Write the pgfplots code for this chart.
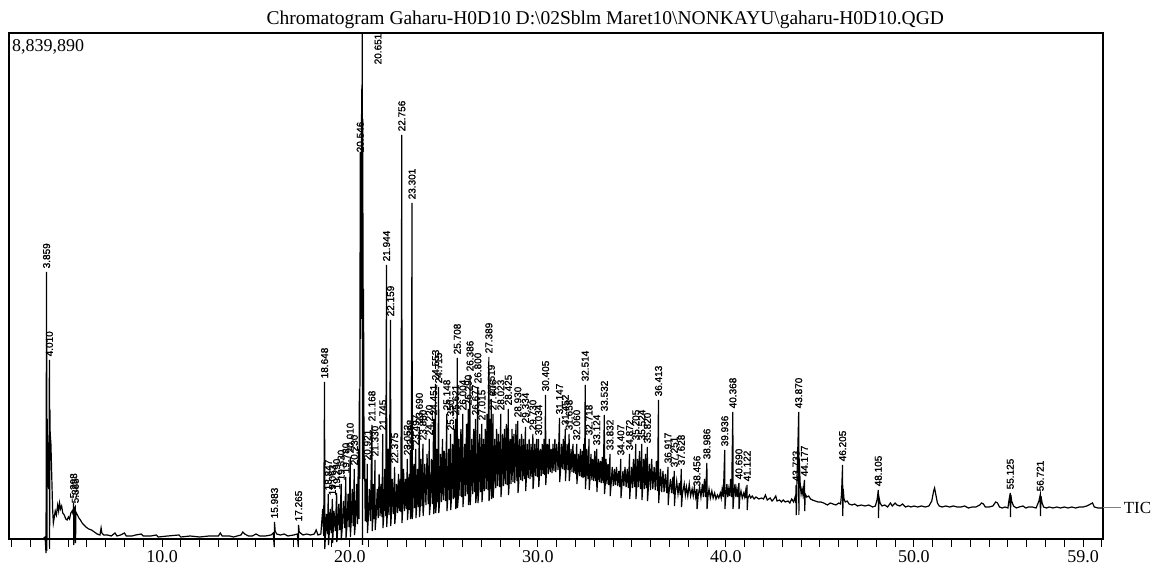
\documentclass[border=0pt]{standalone}
\usepackage{fontspec}
\setmainfont{Liberation Serif}
\newfontfamily\labfont[FakeBold=1.2]{Liberation Sans}
\usepackage{pgfplots}
\usepackage{pgfplotstable}
\pgfplotsset{compat=1.18}

\pgfplotstableread[row sep=\\]{
t h\\
3.70 1\\ 3.78 2\\ 3.83 -14\\ 3.845 150\\ 3.859 267\\ 3.875 -12\\ 3.89 120\\ 3.93 70\\ 3.97 50\\ 3.995 100\\ 4.010 179\\ 4.02 -10\\ 4.035 130\\ 4.05 106\\ 4.09 95\\ 4.13 66\\ 4.18 30\\ 4.22 16\\ 4.27 22\\ 4.32 28\\ 4.38 24\\ 4.45 34\\ 4.50 28\\ 4.55 36\\ 4.60 30\\ 4.66 33\\ 4.72 26\\ 4.80 24\\ 4.88 20\\ 4.95 19\\ 5.02 22\\ 5.08 20\\ 5.15 26\\ 5.22 28\\ 5.27 25\\ 5.298 36\\ 5.31 -6\\ 5.33 30\\ 5.385 32\\ 5.40 -4\\ 5.42 27\\ 5.50 24\\ 5.58 21\\ 5.66 19\\ 5.75 16\\ 5.85 14\\ 5.95 12\\ 6.10 10\\ 6.25 9\\ 6.40 7\\ 6.55 5\\ 6.70 4\\ 6.76 11\\ 6.80 6\\ 6.90 4\\ 7.10 4\\ 7.30 3\\ 7.50 6\\ 7.60 3\\ 7.80 4\\ 8.00 6\\ 8.10 3\\ 8.40 3\\ 8.60 4\\ 8.90 5\\ 9.00 3\\ 9.40 3\\ 9.70 4\\ 9.80 2\\ 10.30 3\\ 10.90 4\\ 11.00 2\\ 11.50 3\\ 12.00 2\\ 12.50 3\\ 13.00 3\\ 13.10 6\\ 13.20 3\\ 13.60 3\\ 13.80 2\\ 14.20 4\\ 14.30 7\\ 14.40 5\\ 14.60 3\\ 14.80 3\\ 15.00 5\\ 15.20 3\\ 15.50 3\\ 15.80 4\\ 15.92 6\\ 15.97 -8\\ 15.983 17\\ 16.02 8\\ 16.10 5\\ 16.30 4\\ 16.50 5\\ 16.70 3\\ 17.00 4\\ 17.20 5\\ 17.25 -8\\ 17.265 14\\ 17.30 7\\ 17.50 4\\ 17.70 5\\ 17.90 4\\ 18.10 5\\ 18.20 9\\ 18.30 4\\ 18.45 5\\
18.55 30\\ 18.60 3\\ 18.648 157\\ 18.66 -10\\ 18.70 6\\ 18.75 25\\ 18.80 5\\ 18.847 45\\ 18.86 -6\\ 18.90 7\\ 18.95 30\\ 19.00 6\\ 19.063 40\\ 19.075 -4\\ 19.11 9\\ 19.15 28\\ 19.22 8\\ 19.29 46\\ 19.30 -3\\ 19.35 10\\ 19.40 35\\ 19.46 9\\ 19.53 55\\ 19.54 -1\\ 19.59 12\\ 19.65 38\\ 19.71 11\\ 19.78 62\\ 19.79 1\\ 19.84 13\\ 19.90 45\\ 19.95 12\\ 20.010 82\\ 20.02 2\\ 20.06 15\\ 20.12 50\\ 20.17 13\\ 20.230 70\\ 20.24 4\\ 20.29 16\\ 20.35 55\\ 20.40 15\\ 20.45 90\\ 20.48 20\\ 20.50 150\\ 20.52 60\\ 20.546 387\\ 20.56 200\\ 20.58 300\\ 20.60 220\\ 20.62 450\\ 20.635 380\\ 20.651 506\\ 20.665 -6\\ 20.68 420\\ 20.70 150\\ 20.72 250\\ 20.75 60\\ 20.78 80\\ 20.81 18\\
20.85 60\\ 20.88 17\\ 20.921 75\\ 20.93 6\\ 20.97 19\\ 21.03 50\\ 21.09 18\\ 21.168 114\\ 21.18 8\\ 21.22 21\\ 21.25 55\\ 21.29 20\\ 21.330 79\\ 21.34 9\\ 21.39 22\\ 21.45 50\\ 21.50 21\\ 21.55 65\\ 21.60 23\\ 21.65 55\\ 21.70 22\\ 21.745 105\\ 21.755 11\\ 21.80 24\\ 21.85 70\\ 21.90 23\\ 21.944 274\\ 21.955 12\\ 21.99 26\\ 22.03 90\\ 22.08 24\\ 22.159 219\\ 22.17 13\\ 22.21 27\\ 22.25 60\\ 22.31 25\\ 22.375 72\\ 22.385 15\\ 22.43 27\\ 22.48 55\\ 22.53 26\\ 22.58 65\\ 22.63 28\\ 22.67 60\\ 22.71 27\\ 22.756 404\\ 22.768 16\\ 22.80 29\\ 22.85 70\\ 22.90 28\\ 22.95 60\\ 23.00 30\\ 23.052 80\\ 23.06 19\\ 23.10 31\\ 23.15 65\\ 23.18 29\\ 23.208 85\\ 23.22 20\\ 23.26 31\\ 23.301 336\\ 23.313 20\\ 23.35 32\\ 23.40 75\\ 23.45 31\\ 23.497 90\\ 23.51 21\\ 23.55 33\\ 23.59 70\\ 23.64 32\\ 23.690 112\\ 23.70 22\\ 23.74 34\\ 23.78 80\\ 23.83 33\\ 23.880 95\\ 23.89 23\\ 23.93 35\\ 23.98 75\\ 24.04 34\\ 24.10 85\\ 24.16 35\\ 24.220 100\\ 24.23 24\\ 24.28 36\\ 24.33 80\\ 24.39 35\\ 24.451 120\\ 24.46 25\\ 24.50 37\\ 24.553 155\\ 24.56 26\\ 24.60 36\\ 24.63 90\\ 24.67 37\\ 24.715 152\\ 24.725 26\\ 24.77 38\\ 24.82 85\\ 24.87 37\\ 24.92 100\\ 24.97 39\\ 25.02 88\\ 25.08 38\\ 25.148 125\\ 25.16 28\\ 25.20 40\\ 25.25 90\\ 25.30 39\\ 25.350 105\\ 25.36 29\\ 25.40 41\\ 25.45 95\\ 25.50 40\\ 25.55 110\\ 25.58 41\\ 25.621 120\\ 25.63 30\\ 25.67 42\\ 25.708 181\\ 25.72 31\\ 25.76 41\\ 25.80 100\\ 25.85 43\\ 25.90 110\\ 25.95 42\\ 26.004 125\\ 26.01 32\\ 26.05 44\\ 26.10 95\\ 26.15 43\\ 26.20 115\\ 26.25 45\\ 26.290 130\\ 26.30 34\\ 26.34 44\\ 26.386 164\\ 26.395 34\\ 26.43 46\\ 26.48 100\\ 26.53 45\\ 26.58 110\\ 26.63 47\\ 26.677 120\\ 26.69 36\\ 26.74 46\\ 26.800 152\\ 26.81 36\\ 26.85 48\\ 26.90 105\\ 26.95 47\\ 27.015 115\\ 27.025 37\\ 27.06 49\\ 27.10 100\\ 27.15 48\\ 27.20 110\\ 27.25 50\\ 27.29 125\\ 27.34 49\\ 27.389 182\\ 27.40 38\\ 27.44 51\\ 27.47 120\\ 27.49 50\\ 27.519 140\\ 27.53 40\\ 27.56 51\\ 27.606 125\\ 27.615 41\\ 27.65 52\\ 27.70 100\\ 27.75 51\\ 27.80 110\\ 27.85 53\\ 27.90 105\\ 27.96 52\\ 28.023 125\\ 28.035 42\\ 28.07 54\\ 28.12 105\\ 28.17 53\\ 28.22 110\\ 28.27 55\\ 28.32 115\\ 28.37 54\\ 28.425 130\\ 28.435 44\\ 28.47 56\\ 28.52 100\\ 28.57 55\\ 28.62 110\\ 28.67 57\\ 28.72 105\\ 28.77 56\\ 28.83 115\\ 28.88 58\\ 28.930 118\\ 28.94 46\\ 28.98 57\\ 29.03 100\\ 29.08 59\\ 29.13 105\\ 29.18 58\\ 29.23 100\\ 29.28 60\\ 29.334 112\\ 29.345 48\\ 29.38 59\\ 29.43 95\\ 29.48 61\\ 29.53 100\\ 29.58 60\\ 29.63 95\\ 29.68 62\\ 29.730 105\\ 29.74 50\\ 29.78 61\\ 29.83 95\\ 29.88 63\\ 29.93 100\\ 29.98 62\\ 30.034 100\\ 30.045 52\\ 30.08 64\\ 30.13 90\\ 30.18 63\\ 30.23 95\\ 30.28 65\\ 30.32 100\\ 30.36 64\\ 30.405 144\\ 30.415 54\\ 30.45 66\\ 30.50 95\\ 30.55 65\\ 30.60 100\\ 30.65 67\\ 30.70 90\\ 30.75 66\\ 30.80 95\\ 30.85 68\\ 30.90 100\\ 30.95 67\\ 31.00 95\\ 31.07 69\\ 31.147 121\\ 31.157 57\\ 31.20 68\\ 31.25 95\\ 31.30 70\\ 31.35 100\\ 31.40 69\\ 31.452 110\\ 31.462 58\\ 31.50 70\\ 31.55 95\\ 31.60 69\\ 31.658 105\\ 31.668 58\\ 31.71 68\\ 31.76 90\\ 31.81 67\\ 31.86 95\\ 31.91 66\\ 31.96 85\\ 32.01 65\\ 32.060 95\\ 32.07 55\\ 32.11 64\\ 32.16 85\\ 32.21 63\\ 32.26 90\\ 32.31 62\\ 32.36 88\\ 32.40 61\\ 32.44 95\\ 32.48 62\\ 32.514 154\\ 32.524 50\\ 32.56 61\\ 32.60 90\\ 32.66 60\\ 32.718 100\\ 32.728 49\\ 32.77 60\\ 32.82 85\\ 32.87 59\\ 32.92 80\\ 32.97 58\\ 33.02 88\\ 33.07 58\\ 33.124 90\\ 33.134 47\\ 33.17 57\\ 33.22 80\\ 33.27 57\\ 33.32 78\\ 33.37 56\\ 33.42 82\\ 33.47 56\\ 33.532 124\\ 33.542 45\\ 33.58 55\\ 33.62 80\\ 33.67 55\\ 33.72 75\\ 33.77 54\\ 33.832 85\\ 33.842 43\\ 33.89 54\\ 33.95 72\\ 34.01 53\\ 34.07 70\\ 34.12 54\\ 34.18 72\\ 34.24 53\\ 34.30 68\\ 34.35 52\\ 34.407 80\\ 34.417 41\\ 34.46 52\\ 34.52 68\\ 34.57 53\\ 34.63 72\\ 34.69 52\\ 34.75 70\\ 34.81 51\\ 34.872 85\\ 34.882 40\\ 34.92 52\\ 34.98 72\\ 35.03 51\\ 35.08 80\\ 35.14 52\\ 35.205 95\\ 35.215 40\\ 35.25 51\\ 35.30 80\\ 35.35 52\\ 35.40 88\\ 35.46 50\\ 35.524 95\\ 35.534 39\\ 35.57 51\\ 35.62 80\\ 35.67 50\\ 35.72 85\\ 35.77 51\\ 35.820 92\\ 35.83 38\\ 35.87 50\\ 35.93 75\\ 35.99 49\\ 36.05 80\\ 36.11 50\\ 36.18 72\\ 36.24 49\\ 36.30 78\\ 36.36 48\\ 36.413 139\\ 36.423 36\\ 36.46 48\\ 36.52 70\\ 36.58 47\\ 36.65 68\\ 36.71 47\\ 36.78 65\\ 36.85 46\\ 36.917 72\\ 36.927 34\\ 36.97 46\\ 37.05 60\\ 37.11 46\\ 37.18 62\\ 37.21 45\\ 37.251 68\\ 37.261 33\\ 37.30 45\\ 37.38 58\\ 37.45 45\\ 37.52 56\\ 37.57 44\\ 37.628 70\\ 37.638 32\\ 37.68 44\\ 37.78 55\\ 37.84 44\\ 37.90 52\\ 37.97 43\\ 38.05 55\\ 38.12 43\\ 38.20 50\\ 38.26 43\\ 38.32 52\\ 38.39 42\\ 38.456 50\\ 38.466 30\\ 38.52 43\\ 38.60 52\\ 38.67 42\\ 38.75 55\\ 38.80 42\\ 38.86 60\\ 38.92 42\\ 38.986 76\\ 38.996 30\\ 39.04 42\\ 39.10 50\\ 39.17 41\\ 39.25 48\\ 39.32 41\\ 39.40 46\\ 39.47 40\\ 39.55 44\\ 39.62 41\\ 39.70 46\\ 39.75 41\\ 39.80 50\\ 39.86 42\\ 39.936 89\\ 39.946 30\\ 39.99 42\\ 40.05 55\\ 40.10 42\\ 40.15 50\\ 40.20 43\\ 40.25 60\\ 40.30 42\\ 40.368 127\\ 40.378 30\\ 40.42 43\\ 40.48 55\\ 40.53 42\\ 40.58 50\\ 40.63 42\\ 40.690 56\\ 40.70 30\\ 40.74 42\\ 40.80 48\\ 40.87 41\\ 40.95 46\\ 41.00 42\\ 41.05 48\\ 41.08 41\\ 41.122 54\\ 41.132 29\\ 41.17 41\\ 41.25 44\\ 41.32 41\\ 41.40 43\\ 41.50 40\\ 41.60 42\\ 41.75 40\\ 41.90 41\\ 42.00 40\\ 42.10 44\\ 42.20 39\\ 42.35 41\\ 42.45 38\\ 42.55 40\\ 42.65 43\\ 42.72 38\\ 42.85 39\\ 42.95 37\\ 43.05 39\\ 43.15 37\\ 43.30 38\\ 43.40 36\\ 43.50 40\\ 43.60 37\\ 43.68 42\\ 43.72 36\\ 43.733 54\\ 43.743 24\\ 43.78 60\\ 43.83 95\\ 43.85 110\\ 43.870 127\\ 43.88 24\\ 43.90 80\\ 43.95 55\\ 44.00 45\\ 44.05 50\\ 44.10 44\\ 44.14 52\\ 44.177 59\\ 44.19 28\\ 44.22 45\\ 44.30 42\\ 44.40 43\\ 44.50 40\\ 44.60 39\\ 44.75 38\\ 44.90 37\\ 45.05 37\\ 45.20 36\\ 45.40 34\\ 45.55 36\\ 45.70 35\\ 45.85 34\\ 46.00 36\\ 46.10 35\\ 46.15 45\\ 46.205 74\\ 46.215 23\\ 46.24 50\\ 46.28 40\\ 46.35 37\\ 46.45 38\\ 46.55 35\\ 46.70 34\\ 46.85 35\\ 47.00 33\\ 47.20 34\\ 47.40 33\\ 47.60 34\\ 47.80 32\\ 47.95 33\\ 48.05 40\\ 48.105 49\\ 48.115 21\\ 48.14 42\\ 48.20 36\\ 48.30 33\\ 48.45 34\\ 48.60 32\\ 48.75 36\\ 48.85 33\\ 49.00 36\\ 49.10 34\\ 49.25 33\\ 49.40 35\\ 49.55 32\\ 49.70 33\\ 49.85 32\\ 50.00 33\\ 50.20 32\\ 50.40 33\\ 50.60 32\\ 50.80 33\\ 50.95 38\\ 51.05 48\\ 51.10 51\\ 51.15 46\\ 51.25 36\\ 51.35 33\\ 51.50 32\\ 51.70 33\\ 51.90 32\\ 52.10 33\\ 52.30 32\\ 52.50 32\\ 52.70 33\\ 52.90 31\\ 53.10 32\\ 53.30 32\\ 53.50 34\\ 53.60 36\\ 53.70 35\\ 53.80 32\\ 54.00 32\\ 54.20 33\\ 54.35 37\\ 54.45 36\\ 54.55 32\\ 54.70 31\\ 54.85 32\\ 55.00 31\\ 55.07 40\\ 55.125 46\\ 55.135 22\\ 55.16 44\\ 55.20 38\\ 55.30 33\\ 55.45 31\\ 55.60 32\\ 55.80 33\\ 55.95 31\\ 56.10 32\\ 56.30 32\\ 56.50 31\\ 56.65 38\\ 56.721 44\\ 56.73 23\\ 56.76 43\\ 56.82 36\\ 56.90 32\\ 57.05 31\\ 57.20 32\\ 57.40 31\\ 57.60 32\\ 57.80 31\\ 58.00 32\\ 58.20 31\\ 58.40 32\\ 58.60 31\\ 58.80 32\\ 59.00 32\\ 59.20 33\\ 59.40 35\\ 59.50 36\\ 59.60 32\\ 59.80 31\\ 60.06 31\\
}\trace

\pgfplotstableread[row sep=\\]{
t h lab\\
3.859 270 3.859\\ 4.010 182 4.010\\ 5.298 40 5.298\\ 5.385 35 5.385\\ 15.983 20 15.983\\ 17.265 17 17.265\\
18.648 160 18.648\\ 18.847 48 18.847\\ 19.063 43 19.063\\ 19.290 49 19.290\\ 19.530 58 19.530\\ 19.780 65 19.780\\ 20.010 85 20.010\\ 20.230 73 20.230\\ 20.546 386 20.546\\ 21.490 474 20.651\\ 20.921 78 20.921\\ 21.168 117 21.168\\ 21.330 82 21.330\\ 21.745 108 21.745\\ 21.944 277 21.944\\ 22.159 222 22.159\\ 22.375 75 22.375\\ 22.756 407 22.756\\ 23.052 83 23.052\\ 23.208 88 23.208\\ 23.301 339 23.301\\ 23.497 93 23.497\\ 23.690 115 23.690\\ 23.880 98 23.880\\ 24.220 103 24.220\\ 24.451 123 24.451\\ 24.553 158 24.553\\ 24.715 155 24.715\\ 25.148 128 25.148\\ 25.350 108 25.350\\ 25.621 123 25.621\\ 25.708 184 25.708\\ 26.004 128 26.004\\ 26.290 133 26.290\\ 26.386 167 26.386\\ 26.677 123 26.677\\ 26.800 155 26.800\\ 27.015 118 27.015\\ 27.389 185 27.389\\ 27.519 143 27.519\\ 27.606 128 27.606\\ 28.023 128 28.023\\ 28.425 133 28.425\\ 28.930 121 28.930\\ 29.334 115 29.334\\ 29.730 108 29.730\\ 30.034 103 30.034\\ 30.405 147 30.405\\ 31.147 124 31.147\\ 31.452 113 31.452\\ 31.658 108 31.658\\ 32.060 98 32.060\\ 32.514 157 32.514\\ 32.718 103 32.718\\ 33.124 93 33.124\\ 33.532 127 33.532\\ 33.832 88 33.832\\ 34.407 83 34.407\\ 34.872 88 34.872\\ 35.205 98 35.205\\ 35.524 98 35.524\\ 35.820 95 35.820\\ 36.413 142 36.413\\ 36.917 75 36.917\\ 37.251 71 37.251\\ 37.628 73 37.628\\ 38.456 52 38.456\\ 38.986 79 38.986\\ 39.936 92 39.936\\ 40.368 130 40.368\\ 40.690 59 40.690\\ 41.122 57 41.122\\ 43.733 57 43.733\\ 43.870 130 43.870\\ 44.177 62 44.177\\ 46.205 77 46.205\\ 48.105 52 48.105\\ 55.125 49 55.125\\ 56.721 47 56.721\\
}\labels

\begin{document}
\begin{tikzpicture}
\begin{axis}[
  scale only axis, width=1094pt, height=506pt,
  xmin=1.86, xmax=60.06, ymin=0, ymax=506,
  axis line style={line width=1.2pt, black},
  ytick=\empty,
  xtick={10,20,30,40,50,59},
  xticklabels={10.0,20.0,30.0,40.0,50.0,59.0},
  minor xtick={2,3,...,60},
  xtick pos=left,
  tick align=outside,
  major tick length=8pt, minor tick length=8pt,
  tick style={line width=1pt, black},
  xticklabel style={font=\fontsize{18}{18}\selectfont},
  clip=false,
]
\addplot[black, line width=1.2pt] table[x=t,y=h] {\trace};
\addplot[gray, line width=1pt] coordinates {(60.06,31) (61.03,31)};
\addplot[only marks, mark=*, mark size=0pt, mark options={draw=none,fill=none},
  nodes near coords, point meta=explicit symbolic,
  nodes near coords style={rotate=90, anchor=west, inner sep=0.5pt, font=\labfont\fontsize{10}{10}\selectfont}]
  table[x=t,y=h,meta=lab] {\labels};
\node[anchor=west, font=\fontsize{17}{17}\selectfont, inner sep=1pt] at (axis cs:61.1,31) {TIC};
\node[anchor=base, font=\fontsize{19.5}{19.5}\selectfont, inner sep=0pt] at ([yshift=8pt]rel axis cs:0.545,1) {Chromatogram Gaharu-H0D10 D:\textbackslash 02Sblm Maret10\textbackslash NONKAYU\textbackslash gaharu-H0D10.QGD};
\node[anchor=base west, font=\fontsize{18}{18}\selectfont, inner sep=0pt] at ([xshift=3pt,yshift=-19pt]rel axis cs:0,1) {8,839,890};
\end{axis}
\pgfresetboundingbox
\path[use as bounding box] (-9pt,-30pt) rectangle (1145pt,539pt);
\end{tikzpicture}
\end{document}
